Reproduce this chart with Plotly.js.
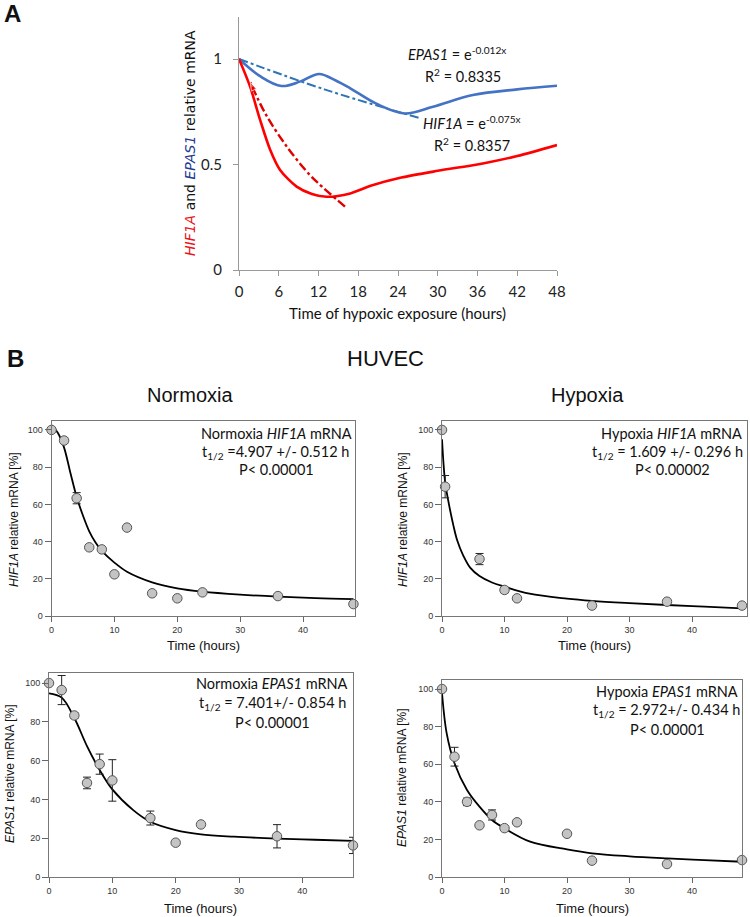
<!DOCTYPE html>
<html>
<head>
<meta charset="utf-8">
<script src="https://cdn.plot.ly/plotly-3.0.1.min.js"></script>
<style>html,body{margin:0;padding:0;background:#fff;}#chart{width:750px;height:917px;}</style>
</head>
<body>
<div id="chart"></div>
<script>
// ---------- Panel A data ----------
const a_hif1a_hours = [0, 1.66, 3.2, 4.7, 6.2, 8.7, 11, 13.2, 16.8, 20, 24.5, 30, 36.8, 42, 48];
const a_hif1a_values = [1, 0.87, 0.71, 0.57, 0.474, 0.395, 0.36, 0.347, 0.363, 0.40, 0.438, 0.47, 0.505, 0.54, 0.592];
const a_epas1_hours = [0, 3.3, 6.4, 9.3, 12.1, 14.6, 16.8, 20.8, 25, 29.3, 35.3, 42, 48];
const a_epas1_values = [1, 0.916, 0.872, 0.894, 0.929, 0.898, 0.861, 0.787, 0.742, 0.774, 0.829, 0.856, 0.873];
const a_hif1a_trend_hours = [16, 12, 10.7, 7.4, 4, 1.7];
const a_hif1a_trend_values = [0.30, 0.41, 0.45, 0.577, 0.74, 0.89];
const a_epas1_trend_hours = [0, 13, 27.3];
const a_epas1_trend_values = [1, 0.855, 0.72];
const a_xticks = [0, 6, 12, 18, 24, 30, 36, 42, 48];
const a_yticks = [0, 0.5, 1];
const a_yticklabels = ['0', '0.5', '1'];

// ---------- Panel B data ----------
const b_xticks = [0, 10, 20, 30, 40];
const b_yticks = [0, 20, 40, 60, 80, 100];

// Normoxia HIF1A
const nh_hours = [0, 2, 4, 6, 8, 10, 12, 16, 20, 24, 36, 48];
const nh_values = [100, 94.3, 63.3, 36.9, 35.8, 22.4, 47.5, 12.2, 9.5, 12.7, 10.7, 6.4];
const nh_err = [0, 1.5, 3, 0, 0, 0, 0, 0, 0, 0, 0, 0];
const nh_fit_hours = [0, 1, 2, 3, 4, 5, 6, 7, 8, 10, 12, 16, 20, 24, 30, 36, 42, 48];
const nh_fit_values = [102.5, 98.5, 90.5, 77, 64, 54, 45.5, 39.5, 35, 28.7, 23.8, 18.1, 14.9, 13.1, 11.5, 10.4, 9.6, 9.1];

// Hypoxia HIF1A
const hh_hours = [0, 0.5, 6, 10, 12, 24, 36, 48];
const hh_values = [100, 69.5, 30.6, 14, 9.5, 5.6, 7.7, 5.6];
const hh_err = [0, 6, 3, 1.5, 0, 0, 0, 0];
const hh_fit_hours = [0, 0.5, 1, 1.8, 2.4, 3.4, 4.5, 6, 8, 10, 14, 20, 24, 30, 36, 42, 48];
const hh_fit_values = [95, 72, 62, 49, 41, 32.5, 26, 21.5, 18, 15.8, 12, 9.3, 8.1, 6.9, 5.9, 5, 4.1];

// Normoxia EPAS1
const ne_hours = [0, 2, 4, 6, 8, 10, 16, 20, 24, 36, 48];
const ne_values = [100, 96.4, 83.3, 48.5, 58.2, 49.8, 30.4, 17.7, 27.1, 21, 16.3];
const ne_err = [0, 7.5, 1.5, 3, 5.2, 10.7, 3.6, 0, 0, 6, 4.2];
const ne_fit_hours = [0, 2, 4, 6, 8, 10, 13.3, 16, 20, 24, 29.2, 36, 42, 48];
const ne_fit_values = [94.7, 92.5, 82, 67.5, 55.2, 45.2, 34.5, 28.5, 24.2, 22, 20.8, 19.8, 19.2, 18.6];

// Hypoxia EPAS1
const he_hours = [0, 2, 4, 6, 8, 10, 12, 20, 24, 36, 48];
const he_values = [100, 64, 40, 27.5, 33, 26, 29.1, 23, 8.7, 6.9, 9.0];
const he_err = [0, 5, 2, 0, 2.7, 0, 0, 0, 0, 0, 0];
const he_fit_hours = [0, 0.75, 2, 4, 6, 8, 10, 14.1, 20, 24, 30, 36, 42, 48];
const he_fit_values = [98, 76.4, 60.5, 46.3, 37.4, 30.3, 25.9, 18.8, 14.7, 12.6, 11, 9.9, 9, 8.1];

// ---------- helpers ----------
const W = 750, H = 917;
const px = v => v / W;
const py = v => 1 - v / H;

const traces = [];
// Panel A
traces.push({x: a_epas1_trend_hours, y: a_epas1_trend_values, xaxis: 'x', yaxis: 'y', mode: 'lines',
  line: {color: '#2E75B6', width: 2, dash: 'dashdot', shape: 'spline'}, hoverinfo: 'skip'});
traces.push({x: a_epas1_hours, y: a_epas1_values, xaxis: 'x', yaxis: 'y', mode: 'lines',
  line: {color: '#4472C4', width: 2.6, shape: 'spline', smoothing: 1}});
traces.push({x: a_hif1a_hours, y: a_hif1a_values, xaxis: 'x', yaxis: 'y', mode: 'lines',
  line: {color: '#FF0000', width: 2.6, shape: 'spline', smoothing: 0.8}});
traces.push({x: a_hif1a_trend_hours, y: a_hif1a_trend_values, xaxis: 'x', yaxis: 'y', mode: 'lines+markers',
  line: {color: '#E00000', width: 2.4, dash: 'dashdot', shape: 'spline'},
  marker: {symbol: 'arrow', angleref: 'previous', color: '#E00000',
           size: a_hif1a_trend_hours.map((h, i) => i === a_hif1a_trend_hours.length - 1 ? 9 : 0)}});

// Panel B
function panel(xa, ya, t, v, e, ft, fv) {
  traces.push({x: ft, y: fv, xaxis: xa, yaxis: ya, mode: 'lines',
    line: {color: '#000', width: 1.8, shape: 'spline'}, cliponaxis: false});
  traces.push({x: t, y: v, xaxis: xa, yaxis: ya, mode: 'markers', cliponaxis: false,
    error_y: {type: 'data', array: e, visible: true, color: '#222', thickness: 1, width: 4},
    marker: {size: 9.5, color: '#C4C4C4', line: {color: '#555', width: 1}}});
}
panel('x2', 'y2', nh_hours, nh_values, nh_err, nh_fit_hours, nh_fit_values);
panel('x3', 'y3', hh_hours, hh_values, hh_err, hh_fit_hours, hh_fit_values);
panel('x4', 'y4', ne_hours, ne_values, ne_err, ne_fit_hours, ne_fit_values);
panel('x5', 'y5', he_hours, he_values, he_err, he_fit_hours, he_fit_values);

const tickA = {family: 'Lato, sans-serif', size: 15, color: '#222'};
const tickB = {family: 'Liberation Sans, Arial, sans-serif', size: 9, color: '#333'};

function bx(dom, range, anchor) {
  return {domain: dom, range: range, anchor: anchor, tickvals: b_xticks, ticks: 'outside', ticklen: 5,
    tickcolor: '#666', showline: true, mirror: true, linecolor: '#777', linewidth: 1, showgrid: false,
    zeroline: false, tickfont: tickB, fixedrange: true};
}
function by(dom, range, anchor) {
  return {domain: dom, range: range, anchor: anchor, tickvals: b_yticks, ticks: 'outside', ticklen: 6,
    tickcolor: '#666', showline: true, mirror: true, linecolor: '#777', linewidth: 1, showgrid: false,
    zeroline: false, tickfont: tickB, fixedrange: true};
}

const layout = {
  width: W, height: H, margin: {l: 0, r: 0, t: 0, b: 0}, paper_bgcolor: '#fff', plot_bgcolor: 'rgba(0,0,0,0)',
  showlegend: false,
  xaxis: {domain: [px(239), px(557)], range: [0, 48], anchor: 'y', tickvals: a_xticks, ticks: 'outside', ticklen: 5,
    tickcolor: '#999', showline: true, linecolor: '#999', linewidth: 1, showgrid: false, zeroline: false,
    tickfont: tickA, ticklabelstandoff: 3},
  yaxis: {domain: [py(270), py(16.8)], range: [0, 1.2], anchor: 'x', tickvals: a_yticks, ticktext: a_yticklabels,
    ticks: 'outside', ticklen: 5, tickcolor: '#999', showline: true, linecolor: '#999', linewidth: 1,
    showgrid: false, zeroline: false, tickfont: tickA, ticklabelstandoff: 8},
  xaxis2: bx([px(51.5), px(355)], [0, 48.25], 'y2'),
  yaxis2: by([py(616), py(421)], [0, 104.8], 'x2'),
  xaxis3: bx([px(442), px(747)], [0, 48.8], 'y3'),
  yaxis3: by([py(616), py(421)], [0, 104.8], 'x3'),
  xaxis4: bx([px(49), px(353)], [0, 48], 'y4'),
  yaxis4: by([py(877), py(673)], [0, 105.2], 'x4'),
  xaxis5: bx([px(442), px(742)], [0, 48], 'y5'),
  yaxis5: by([py(877), py(680)], [0, 104.8], 'x5'),
  annotations: []
};

function ann(x, y, text, size, family, opts) {
  layout.annotations.push(Object.assign({xref: 'paper', yref: 'paper', x: px(x), y: py(y), text: text,
    showarrow: false, xanchor: 'center', yanchor: 'middle',
    font: {size: size, family: family, color: '#111'}}, opts || {}));
}
const ARIAL = 'Liberation Sans, Arial, sans-serif';
const CAL = 'Lato, sans-serif';

// Panel labels / titles
ann(12, 13, '<b>A</b>', 24, ARIAL);
ann(15, 358, '<b>B</b>', 24, ARIAL);
ann(385, 358, 'HUVEC', 22, ARIAL);
ann(190, 395, 'Normoxia', 20, ARIAL);
ann(587, 395, 'Hypoxia', 20, ARIAL);

// Panel A axis titles
ann(398, 313, 'Time of hypoxic exposure (hours)', 15, CAL);
ann(190, 143, '<span style="color:#E8151B"><i>HIF1A</i></span> and <span style="color:#1F3A93"><i>EPAS1</i></span> relative mRNA',
  14, 'DejaVu Sans, Verdana, sans-serif', {textangle: -90});
// Panel A equations
ann(457, 53, '<i>EPAS1</i> = e<sup>-0.012x</sup>', 14.5, CAL);
ann(463, 75, 'R<sup>2</sup> = 0.8335', 14.5, CAL);
ann(472, 122, '<i>HIF1A</i> = e<sup>-0.075x</sup>', 14.5, CAL);
ann(472, 145, 'R<sup>2</sup> = 0.8357', 14.5, CAL);

// Panel B axis titles
ann(203, 645, 'Time (hours)', 13, ARIAL);
ann(594, 645, 'Time (hours)', 13, ARIAL);
ann(200, 908, 'Time (hours)', 13, ARIAL);
ann(592, 908, 'Time (hours)', 13, ARIAL);
ann(14, 520, '<i>HIF1A</i> relative mRNA [%]', 12, ARIAL, {textangle: -90});
ann(403, 520, '<i>HIF1A</i> relative mRNA [%]', 12, ARIAL, {textangle: -90});
ann(10, 774, '<i>EPAS1</i> relative mRNA [%]', 12, ARIAL, {textangle: -90});
ann(402, 778, '<i>EPAS1</i> relative mRNA [%]', 12, ARIAL, {textangle: -90});

// Panel B statistics boxes
ann(276, 433, 'Normoxia <i>HIF1A</i> mRNA', 14.5, CAL);
ann(275, 452, 't<sub>1/2</sub> =4.907 +/- 0.512 h', 14.5, CAL);
ann(276, 470, 'P< 0.00001', 14.5, CAL);
ann(671, 433, 'Hypoxia <i>HIF1A</i> mRNA', 14.5, CAL);
ann(667, 452, 't<sub>1/2</sub> = 1.609 +/- 0.296 h', 14.5, CAL);
ann(672, 470, 'P< 0.00002', 14.5, CAL);
ann(272, 683, 'Normoxia <i>EPAS1</i> mRNA', 14.5, CAL);
ann(272, 703, 't<sub>1/2</sub> = 7.401+/- 0.854 h', 14.5, CAL);
ann(272, 722, 'P< 0.00001', 14.5, CAL);
ann(667, 691, 'Hypoxia <i>EPAS1</i> mRNA', 14.5, CAL);
ann(666, 710, 't<sub>1/2</sub> = 2.972+/- 0.434 h', 14.5, CAL);
ann(667, 729, 'P< 0.00001', 14.5, CAL);

Plotly.newPlot('chart', traces, layout, {staticPlot: true, displayModeBar: false});
</script>
</body>
</html>
